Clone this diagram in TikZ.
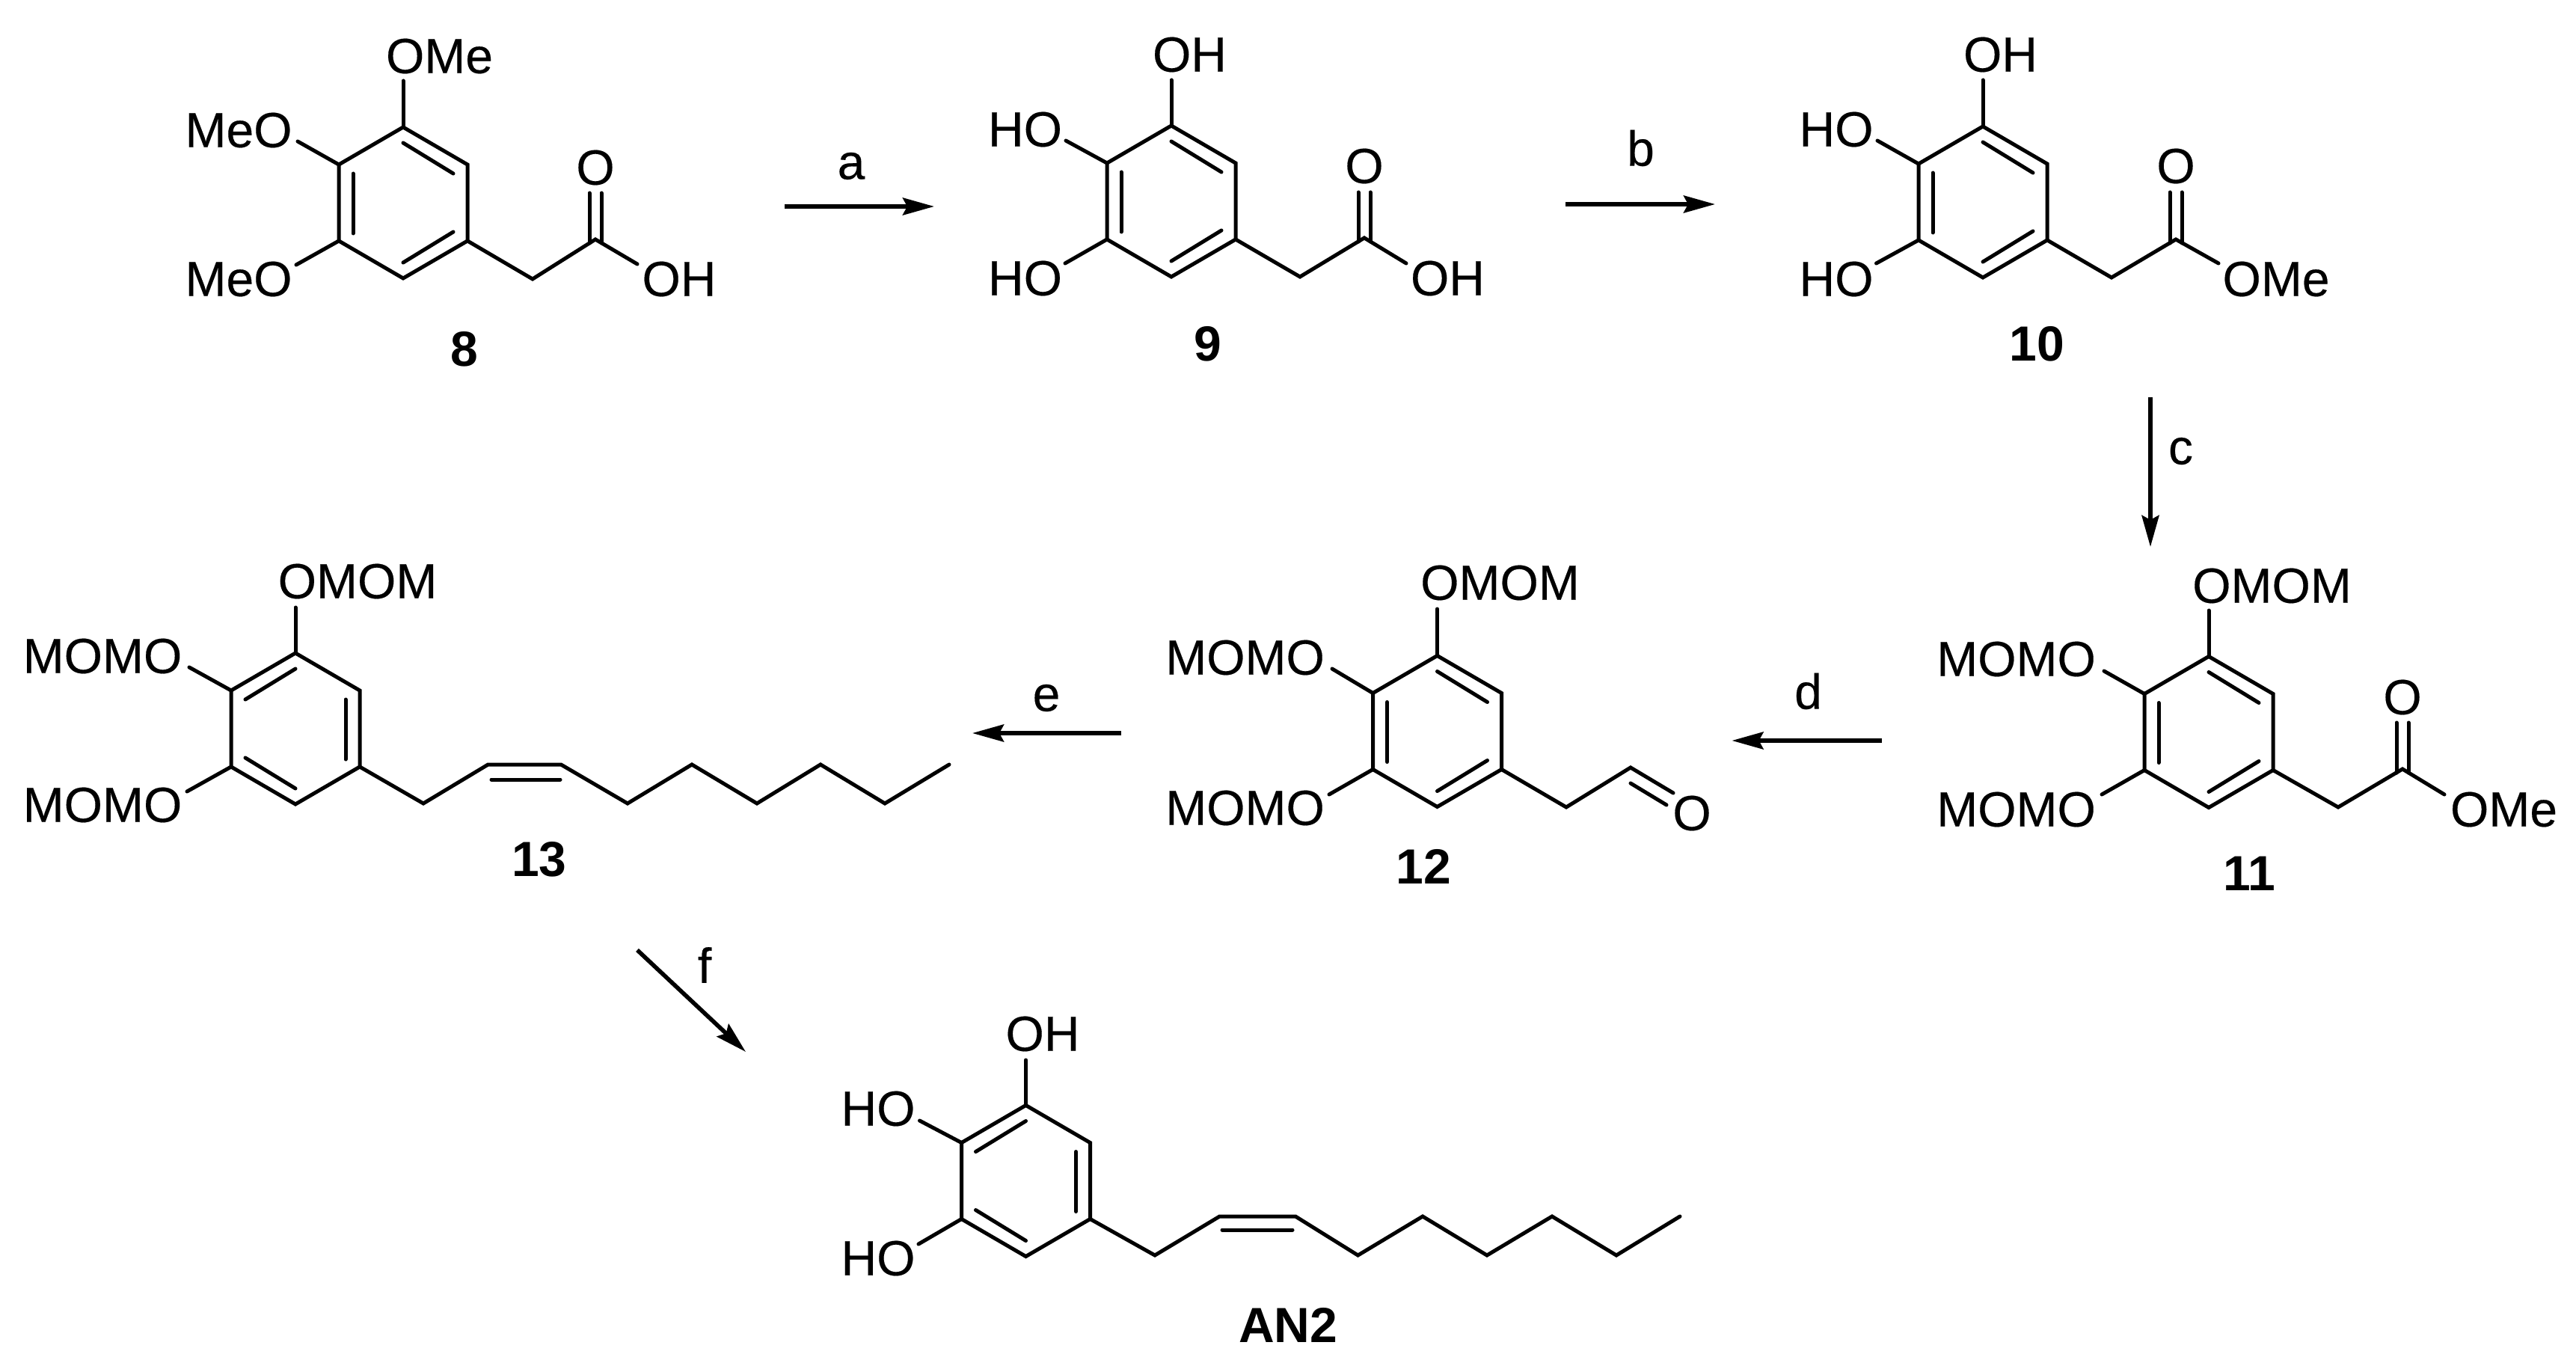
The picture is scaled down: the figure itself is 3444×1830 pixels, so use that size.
\documentclass[tikz,border=0pt]{standalone}
\usepackage{fontspec}
\setmainfont{Liberation Sans}[FakeBold=0.25]
\newfontfamily\labelfont{Liberation Sans Bold}
\usetikzlibrary{arrows.meta,calc}
\tikzset{
  bondline/.style={line width=2.5pt,line cap=round,line join=miter,miter limit=10},
  atom/.style={inner sep=0pt,outer sep=0pt,font=\fontsize{33}{40}\selectfont},
  cmpd/.style={inner sep=0pt,outer sep=0pt,font=\fontsize{33}{40}\selectfont\labelfont},
  rxn/.style={line width=2.8pt,-{Stealth[length=21pt,width=11.5pt,inset=3pt]}},
  rxnlabel/.style={inner sep=0pt,outer sep=0pt,font=\fontsize{33}{40}\selectfont},
}
% ring with double bonds top-right / left / bottom-right
\newcommand{\ringbase}[3]{%
  \begin{scope}[shift={(#2,#3)}]
    \coordinate (#11) at (0,-101); \coordinate (#12) at (86,-51);
    \coordinate (#13) at (86,51);  \coordinate (#14) at (0,101);
    \coordinate (#15) at (-86,51); \coordinate (#16) at (-86,-51);
    \draw[bondline] (#11) -- (#12) -- (#13) -- (#14) -- (#15) -- (#16) -- cycle;
  \end{scope}}
\newcommand{\ringL}[3]{\ringbase{#1}{#2}{#3}%
  \begin{scope}[shift={(#2,#3)}]
    \draw[bondline] (0,-80) -- (67,-39);
    \draw[bondline] (-67,-39) -- (-67,41);
    \draw[bondline] (0,80) -- (67,39);
  \end{scope}}
\newcommand{\ringR}[3]{\ringbase{#1}{#2}{#3}%
  \begin{scope}[shift={(#2,#3)}]
    \draw[bondline] (0,-80) -- (-67,-39);
    \draw[bondline] (67,-39) -- (67,41);
    \draw[bondline] (0,80) -- (-67,39);
  \end{scope}}
% vertical C=O double bond
\newcommand{\cdbl}[2]{%
  \draw[bondline] ([xshift=-4pt,yshift=-2.5pt]#1) -- ([xshift=-4pt]#2);
  \draw[bondline] ([xshift=4pt,yshift=-2.5pt]#1) -- ([xshift=4pt]#2);}
\begin{document}
\begin{tikzpicture}[x=0.5pt,y=-0.5pt]
\useasboundingbox (0,0) rectangle (3444,1830);
\fill[white] (0,0) rectangle (3444,1830);

% ---------- 8 ----------
\ringL{a}{539}{271}
\node[atom] (aOMe) at (587.5,75) {OMe};
\node[atom] (aMeOu) at (319,174) {MeO};
\node[atom] (aMeOl) at (319,373) {MeO};
\node[atom] (aO) at (796,224) {O};
\node[atom] (aOH) at (908,373) {OH};
\node[cmpd] (l8) at (621,467) {8};
\coordinate (a1e) at (539,108); \coordinate (a6e) at (398,189); \coordinate (a5e) at (396,354);
\coordinate (aCH) at (712,373); \coordinate (aC) at (796,320); \coordinate (aOe) at (796,258); \coordinate (aHe) at (852,353);
\draw[bondline] (a1) -- (a1e);
\draw[bondline] (a6) -- (a6e);
\draw[bondline] (a5) -- (a5e);
\draw[bondline] (a3) -- (aCH) -- (aC) -- (aHe);
\cdbl{aC}{aOe}

% ---------- 9 ----------
\ringL{b}{1566}{269}
\node[atom] (bOHt) at (1590.5,73) {OH};
\node[atom] (bHOu) at (1370.5,173) {HO};
\node[atom] (bHOl) at (1370.5,372) {HO};
\node[atom] (bO) at (1824,222) {O};
\node[atom] (bOH) at (1935.5,372) {OH};
\node[cmpd] (l9) at (1615,460) {9};
\coordinate (b1e) at (1566,107); \coordinate (b6e) at (1425,188); \coordinate (b5e) at (1424,352);
\coordinate (bCH) at (1738,370); \coordinate (bC) at (1824,318); \coordinate (bOe) at (1824,257); \coordinate (bHe) at (1880,352);
\draw[bondline] (b1) -- (b1e);
\draw[bondline] (b6) -- (b6e);
\draw[bondline] (b5) -- (b5e);
\draw[bondline] (b3) -- (bCH) -- (bC) -- (bHe);
\cdbl{bC}{bOe}

% ---------- 10 ----------
\ringL{c}{2651}{270}
\node[atom] (cOHt) at (2674.5,73) {OH};
\node[atom] (cHOu) at (2455,173) {HO};
\node[atom] (cHOl) at (2455,373) {HO};
\node[atom] (cO) at (2909,222) {O};
\node[atom] (cOMe) at (3043,373) {OMe};
\node[cmpd] (l10) at (2723,460) {10};
\coordinate (c1e) at (2651,107); \coordinate (c6e) at (2510,188); \coordinate (c5e) at (2508.5,352);
\coordinate (cCH) at (2823,371); \coordinate (cC) at (2909,320); \coordinate (cOe) at (2909,257); \coordinate (cMe) at (2966,352);
\draw[bondline] (c1) -- (c1e);
\draw[bondline] (c6) -- (c6e);
\draw[bondline] (c5) -- (c5e);
\draw[bondline] (c3) -- (cCH) -- (cC) -- (cMe);
\cdbl{cC}{cOe}

% ---------- 11 ----------
\ringL{d}{2953}{978.5}
\node[atom] (dOMOM) at (3037.5,783) {OMOM};
\node[atom] (dMOMOu) at (2695.5,881) {MOMO};
\node[atom] (dMOMOl) at (2695.5,1082) {MOMO};
\node[atom] (dO) at (3212,932) {O};
\node[atom] (dOMe) at (3347.5,1082) {OMe};
\node[cmpd] (l11) at (3007.5,1168) {11};
\coordinate (d1e) at (2953,816); \coordinate (d6e) at (2813,897); \coordinate (d5e) at (2810,1062);
\coordinate (dCH) at (3126,1079); \coordinate (dC) at (3212,1028); \coordinate (dOe) at (3212,966); \coordinate (dMe) at (3268,1062);
\draw[bondline] (d1) -- (d1e);
\draw[bondline] (d6) -- (d6e);
\draw[bondline] (d5) -- (d5e);
\draw[bondline] (d3) -- (dCH) -- (dC) -- (dMe);
\cdbl{dC}{dOe}

% ---------- 12 ----------
\ringL{e}{1921.5}{977.5}
\node[atom] (eOMOM) at (2005.5,779) {OMOM};
\node[atom] (eMOMOu) at (1664.5,879) {MOMO};
\node[atom] (eMOMOl) at (1664.5,1080) {MOMO};
\node[atom] (eO) at (2262,1087) {O};
\node[cmpd] (l12) at (1903,1158) {12};
\coordinate (e1e) at (1921.5,814); \coordinate (e6e) at (1781,894); \coordinate (e5e) at (1777,1062);
\coordinate (eCH) at (2094,1079); \coordinate (eC) at (2180,1026); \coordinate (eOe) at (2237,1060);
\coordinate (eIa) at (2180,1047); \coordinate (eIb) at (2228,1076);
\draw[bondline] (e1) -- (e1e);
\draw[bondline] (e6) -- (e6e);
\draw[bondline] (e5) -- (e5e);
\draw[bondline] (e3) -- (eCH) -- (eC) -- (eOe);
\draw[bondline] (eIa) -- (eIb);

% ---------- 13 ----------
\ringR{f}{395}{974}
\node[atom] (fOMOM) at (478,777) {OMOM};
\node[atom] (fMOMOu) at (137,877) {MOMO};
\node[atom] (fMOMOl) at (137,1076) {MOMO};
\node[cmpd] (l13) at (721,1149) {13};
\coordinate (f1e) at (395,812); \coordinate (f6e) at (253,892); \coordinate (f5e) at (250,1058);
\coordinate (fc1) at (566,1074); \coordinate (fc2) at (652.5,1022); \coordinate (fc3) at (750,1022);
\coordinate (fc4) at (839,1074); \coordinate (fc5) at (925,1022); \coordinate (fc6) at (1012,1074);
\coordinate (fc7) at (1097,1022); \coordinate (fc8) at (1183,1074); \coordinate (fc9) at (1269,1022);
\coordinate (fIa) at (657,1042); \coordinate (fIb) at (749,1042);
\draw[bondline] (f1) -- (f1e);
\draw[bondline] (f6) -- (f6e);
\draw[bondline] (f5) -- (f5e);
\draw[bondline] (f3) -- (fc1) -- (fc2) -- (fc3) -- (fc4) -- (fc5) -- (fc6) -- (fc7) -- (fc8) -- (fc9);
\draw[bondline] (fIa) -- (fIb);

% ---------- AN2 ----------
\ringR{g}{1371.5}{1578.5}
\node[atom] (gOH) at (1394,1382) {OH};
\node[atom] (gHOu) at (1174,1482) {HO};
\node[atom] (gHOl) at (1174,1682) {HO};
\node[cmpd] (lAN) at (1722,1771) {AN2};
\coordinate (g1e) at (1371.5,1417); \coordinate (g6e) at (1229.5,1498); \coordinate (g5e) at (1228,1663);
\coordinate (gc1) at (1544,1678); \coordinate (gc2) at (1630.5,1626); \coordinate (gc3) at (1732,1626);
\coordinate (gc4) at (1815.5,1678); \coordinate (gc5) at (1902,1626); \coordinate (gc6) at (1988,1678);
\coordinate (gc7) at (2075,1626); \coordinate (gc8) at (2161,1678); \coordinate (gc9) at (2246,1626);
\coordinate (gIa) at (1634,1644); \coordinate (gIb) at (1728,1644);
\draw[bondline] (g1) -- (g1e);
\draw[bondline] (g6) -- (g6e);
\draw[bondline] (g5) -- (g5e);
\draw[bondline] (g3) -- (gc1) -- (gc2) -- (gc3) -- (gc4) -- (gc5) -- (gc6) -- (gc7) -- (gc8) -- (gc9);
\draw[bondline] (gIa) -- (gIb);

% ---------- reaction arrows ----------
\coordinate (ra1) at (1049,276); \coordinate (ra2) at (1249,276);
\coordinate (rb1) at (2093,273); \coordinate (rb2) at (2293,273);
\coordinate (rc1) at (2875,531); \coordinate (rc2) at (2875,731);
\coordinate (rd1) at (2516,990); \coordinate (rd2) at (2315.5,990);
\coordinate (re1) at (1499,980); \coordinate (re2) at (1300,980);
\coordinate (rf1) at (852,1270); \coordinate (rf2) at (997,1406);
\draw[rxn] (ra1) -- (ra2);
\draw[rxn] (rb1) -- (rb2);
\draw[rxn] (rc1) -- (rc2);
\draw[rxn] (rd1) -- (rd2);
\draw[rxn] (re1) -- (re2);
\draw[rxn] (rf1) -- (rf2);
\node[rxnlabel] (la) at (1138,222) {a};
\node[rxnlabel] (lb) at (2193.5,198) {b};
\node[rxnlabel] (lc) at (2915.5,603) {c};
\node[rxnlabel] (ld) at (2417.5,924) {d};
\node[rxnlabel] (le) at (1399,933) {e};
\node[rxnlabel] (lf) at (942,1290) {f};
\end{tikzpicture}
\end{document}
